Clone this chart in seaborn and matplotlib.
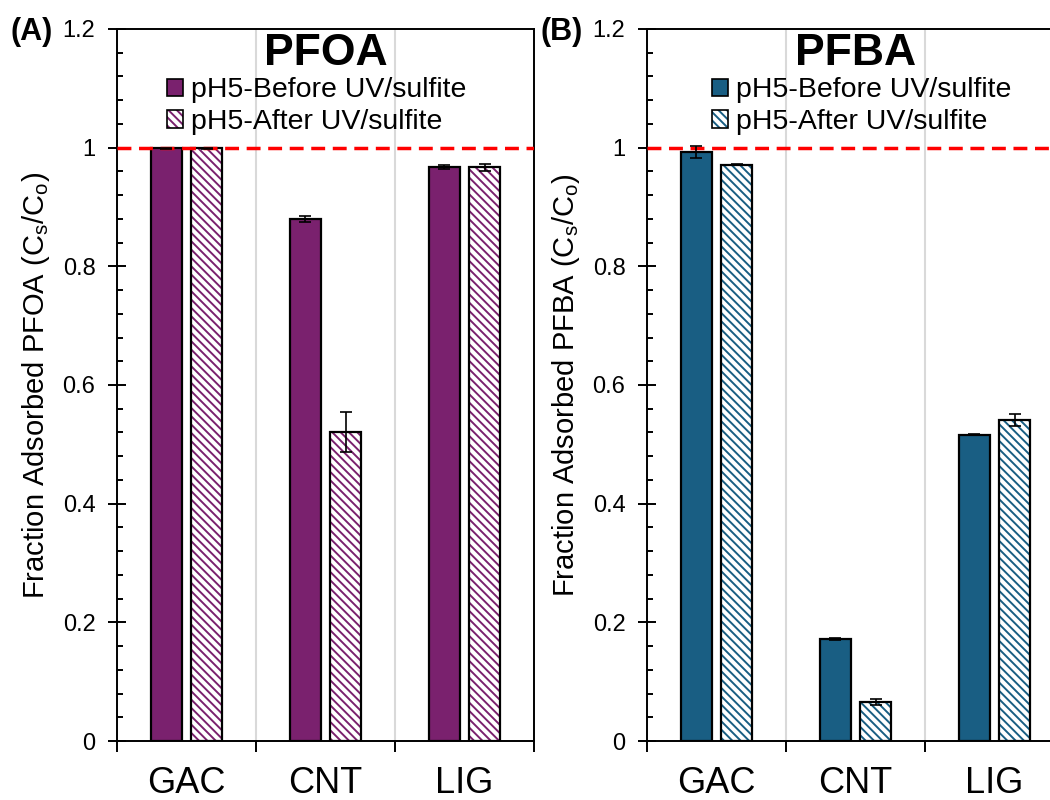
import numpy as np
import pandas as pd
import matplotlib
matplotlib.use('Agg')
import matplotlib.pyplot as plt
import matplotlib.patches as mpatches
from matplotlib.colors import to_rgba
from matplotlib.ticker import MultipleLocator, FuncFormatter
import seaborn as sns

# ---------------- data ----------------
materials = ['GAC', 'CNT', 'LIG']
conditions = ['pH5-Before UV/sulfite', 'pH5-After UV/sulfite']

pfoa_before = [0.999, 0.880, 0.967]
pfoa_before_err = [0.001, 0.005, 0.003]
pfoa_after = [0.999, 0.521, 0.967]
pfoa_after_err = [0.001, 0.034, 0.006]

pfba_before = [0.992, 0.172, 0.516]
pfba_before_err = [0.010, 0.001, 0.001]
pfba_after = [0.971, 0.065, 0.541]
pfba_after_err = [0.001, 0.005, 0.010]

reference_level = 1.0

# ---------------- style ----------------
sns.set_style('ticks')
plt.rcParams['font.family'] = ['Liberation Sans', 'DejaVu Sans']
plt.rcParams['mathtext.fontset'] = 'custom'
plt.rcParams['mathtext.rm'] = 'Liberation Sans'
plt.rcParams['mathtext.it'] = 'Liberation Sans:italic'
plt.rcParams['hatch.linewidth'] = 1.4
for k in ['text.color', 'axes.labelcolor', 'xtick.color', 'ytick.color', 'axes.edgecolor']:
    plt.rcParams[k] = 'black'

PURPLE = '#7A216E'
BLUE = '#195E83'
HATCH = '\\' * 4

fig = plt.figure(figsize=(10.5, 8), dpi=100)
axA = fig.add_axes([117 / 1050, 59 / 800, 417 / 1050, 712 / 800])
axB = fig.add_axes([647 / 1050, 59 / 800, 417 / 1050, 712 / 800])


def panel(ax, before, berr, after, aerr, color, name, letter, letter_x, leg_x, ylabel):
    df = pd.DataFrame({
        'Material': materials * 2,
        'Condition': [conditions[0]] * len(materials) + [conditions[1]] * len(materials),
        'Value': list(before) + list(after),
    })
    sns.barplot(data=df, x='Material', y='Value', hue='Condition',
                order=materials, hue_order=conditions,
                palette=[color, 'white'], saturation=1,
                width=0.576, gap=0.226, edgecolor='black', linewidth=1.6,
                errorbar=None, legend=False, ax=ax, zorder=3)
    # hatch the "after" bars
    for bar in ax.containers[1]:
        bar.set_hatch(HATCH)
        bar._hatch_color = to_rgba(color)

    # error bars
    for cont, errs in zip(ax.containers, [berr, aerr]):
        xs = [b.get_x() + b.get_width() / 2 for b in cont]
        ys = [b.get_height() for b in cont]
        ax.errorbar(xs, ys, yerr=errs, fmt='none', ecolor='black',
                    elinewidth=1.2, capsize=4, capthick=1.2, zorder=5)

    ax.axhline(reference_level, color='#FF0000', lw=2.5, dashes=(4.0, 2.2), zorder=4)

    ax.set_xlim(-0.5, len(materials) - 0.5)
    ax.set_ylim(0, 1.2)
    ax.set_xlabel('')
    ax.set_xticks(np.arange(len(materials) + 1) - 0.5)
    ax.set_xticklabels([])
    ax.set_xticks(np.arange(len(materials)), minor=True)
    ax.set_xticklabels(materials, minor=True)
    ax.tick_params(axis='x', which='major', direction='out', length=8, width=1.4)
    ax.tick_params(axis='x', which='minor', length=0, pad=18, labelsize=26)
    ax.xaxis.grid(True, which='major', color='#D9D9D9', lw=1.5)
    ax.set_axisbelow(True)

    ax.yaxis.set_major_locator(MultipleLocator(0.2))
    ax.yaxis.set_minor_locator(MultipleLocator(0.04))
    ax.yaxis.set_major_formatter(FuncFormatter(lambda v, p: f'{v:g}'))
    ax.tick_params(axis='y', which='major', direction='inout', length=13, width=1.4,
                   labelsize=17, pad=9)
    ax.tick_params(axis='y', which='minor', direction='in', length=4.5, width=1.4)

    ax.set_ylabel(ylabel, fontsize=21)
    ax.yaxis.set_label_coords(-0.155, 0.5)

    for s in ax.spines.values():
        s.set_visible(True)
        s.set_color('black')
        s.set_linewidth(1.4)

    ax.text(0.5, 0.949, name, transform=ax.transAxes, ha='center', va='baseline',
            fontsize=32, fontweight='bold')

    h1 = mpatches.Patch(facecolor=color, edgecolor='black', lw=1.2)
    h2 = mpatches.Patch(facecolor='white', edgecolor='black', lw=1.2, hatch=HATCH)
    h2._hatch_color = to_rgba(color)
    leg = ax.legend([h1, h2], conditions, loc='upper left', bbox_to_anchor=(leg_x, 0.932),
                    frameon=False, fontsize=20.5, handlelength=0.55, handleheight=0.55,
                    handletextpad=0.3, labelspacing=0.2, borderpad=0, borderaxespad=0)
    for p in leg.get_patches()[1:]:
        p._hatch_color = to_rgba(color)

    fig.text(letter_x, 1 - 40 / 800, letter, fontsize=22, fontweight='bold',
             va='baseline', ha='left')


panel(axA, pfoa_before, pfoa_before_err, pfoa_after, pfoa_after_err, PURPLE,
      'PFOA', '(A)', 10 / 1050, 0.12,
      r'Fraction Adsorbed PFOA (C$_\mathregular{s}$/C$_\mathregular{o}$)')
panel(axB, pfba_before, pfba_before_err, pfba_after, pfba_after_err, BLUE,
      'PFBA', '(B)', 540 / 1050, 0.156,
      r'Fraction Adsorbed PFBA (C$_\mathregular{s}$/C$_\mathregular{o}$)')

fig.savefig('out.png', dpi=100)
